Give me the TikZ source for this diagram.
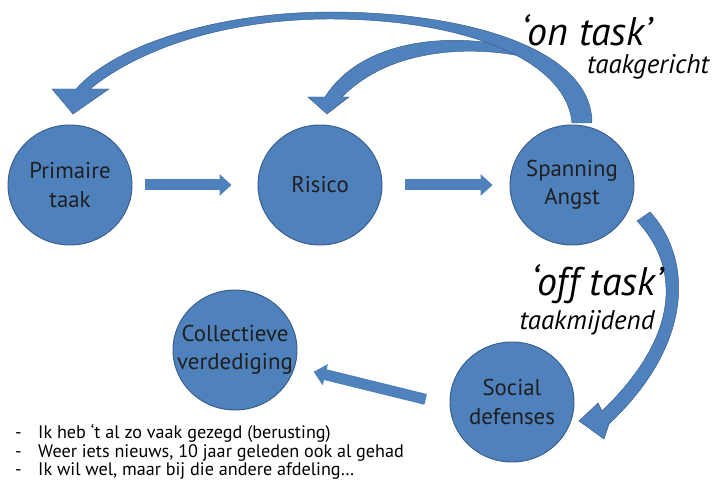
\documentclass[tikz,border=0pt]{standalone}
\usepackage{fontspec}
\setmainfont{PT Sans}
\usepackage{tikz}
\usetikzlibrary{arrows.meta,positioning,shapes.geometric,calc}
\definecolor{blobFill}{RGB}{79,129,189}
\definecolor{blobLine}{RGB}{56,93,138}
\tikzstyle{blob} = [ellipse, fill=blobFill, draw=blobLine, line width=0.8pt,
	minimum width=3.72cm, minimum height=3.6cm, inner sep=0pt]
\tikzstyle{blobText} = [align=center, text=black!88, font=\fontsize{19.5}{24}\selectfont]
\tikzstyle{fatArrow} = [draw=blobFill, line width=0.33cm,
	-{Triangle[width=0.63cm,length=0.36cm]}]
\tikzstyle{bendArrow} = [fill=blobFill, draw=blobLine, line width=0.4pt]
\tikzstyle{taskText} = [font=\itshape\fontsize{34}{34}\selectfont, inner sep=0pt]
\tikzstyle{subText} = [font=\itshape\fontsize{23}{23}\selectfont, inner sep=0pt]
\tikzstyle{listText} = [align=left, inner sep=0pt, font=\fontsize{15.5}{15.5}\selectfont]

\begin{document}
\begin{tikzpicture}[x=0.03cm, y=-0.03cm, node distance=7.5cm]
		\useasboundingbox (0,0) rectangle (717,483);
		\node[blob, label={[blobText]center:{Primaire\\taak}}] (prim) at (70,185) {};	% primaire taak
		\node[blob, right of=prim, label={[blobText]center:Risico}] (risico) {};
		\node[blob, right of=risico, node distance=7.56cm, label={[blobText]center:{Spanning\\Angst}}] (spanning) {};
		\node[blob, label={[blobText]center:{Collectieve\\verdediging}}] (collectief) at (235,350) {};
		\node[blob, label={[blobText]center:{Social\\defenses}}] (social) at (512,402) {};
		
		% rechte pijlen
		\draw[fatArrow, shorten <=0.39cm, shorten >=0.78cm] (prim) -- (risico);
		\draw[fatArrow, shorten <=0.69cm, shorten >=0.51cm] (risico) -- (spanning);
		\draw[fatArrow, shorten <=0.74cm, shorten >=0.58cm] (social.183) -- (collectief.-16);
		
		% gebogen pijlen: eerst de binnenste, dan de grote boog eroverheen
		\draw[bendArrow] (520,56) .. controls (470,46) and (390,48) .. (342,97) -- (349,97) -- (327,114)
			-- (308,97) -- (325,97) .. controls (360,42) and (440,34) .. (498,44) -- cycle;
		\draw[bendArrow] (572,123) .. controls (566,58) and (460,19) .. (330,19)
			.. controls (220,19) and (135,52) .. (90,89) -- (109,89) -- (73,114) -- (52,89) -- (76,89)
			.. controls (116,44) and (220,12) .. (330,12) .. controls (470,12) and (592,50) .. (592,123) -- cycle;
		\draw[bendArrow] (637,221) .. controls (676,262) and (686,330) .. (602,411) -- (598,403) -- (579,421)
			-- (604,439) -- (609,424) .. controls (698,340) and (690,255) .. (650,212) -- cycle;
		
		% teksten
		\node[taskText] (ontask) at (587,30) {‘on task’};
		\node[subText] (gericht) at (648,67) {taakgericht};
		\node[taskText] (offtask) at (597,284) {‘off task’};
		\node[subText] (mijdend) at (587,323) {taakmijdend};
		\node[listText, anchor=west] (voorbeelden) at (15,452) {%
			\makebox[0.69cm][l]{-}Ik heb ‘t al zo vaak gezegd (berusting)\\
			\makebox[0.69cm][l]{-}Weer iets nieuws, 10 jaar geleden ook al gehad\\
			\makebox[0.69cm][l]{-}Ik wil wel, maar bij die andere afdeling…};
\end{tikzpicture}
\end{document}
